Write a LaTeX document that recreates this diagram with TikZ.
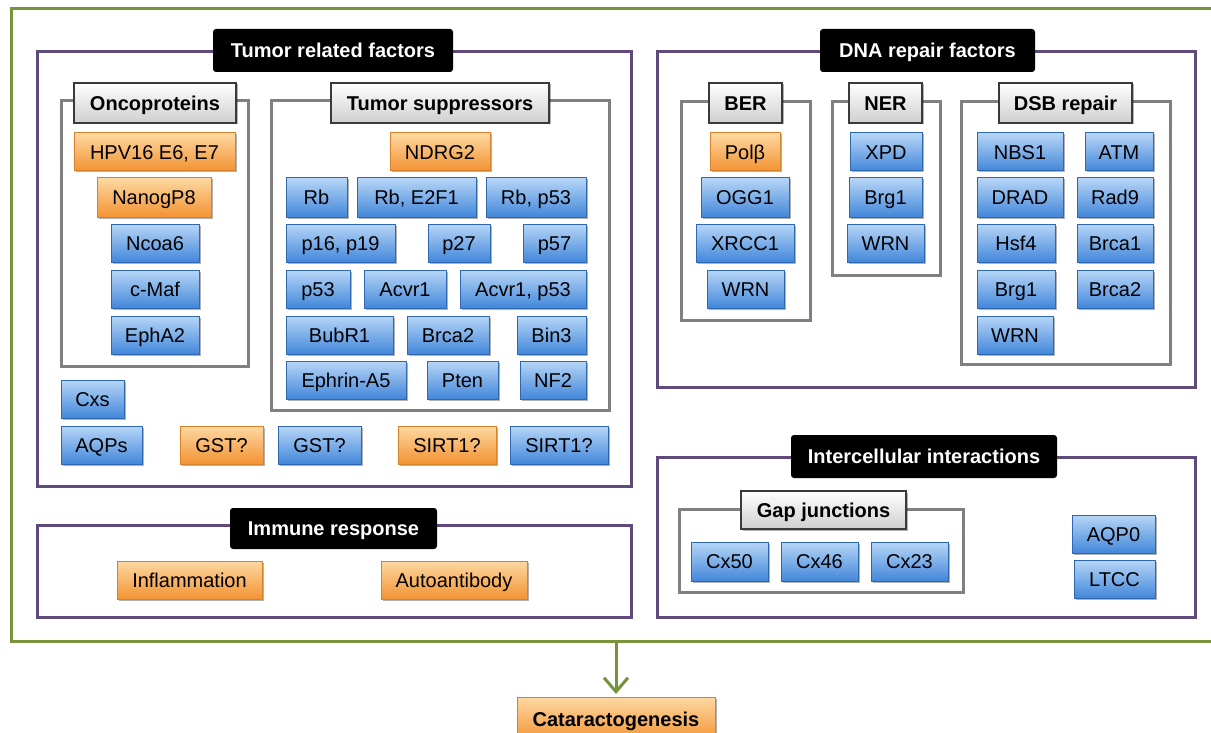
\documentclass[tikz,border=0pt]{standalone}
\usepackage{fontspec}
\setmainfont{Liberation Sans}
\usetikzlibrary{arrows.meta,shadows}
\definecolor{orTop}{HTML}{FDD8A2}
\definecolor{orBot}{HTML}{F39332}
\definecolor{orBorder}{HTML}{D9822B}
\definecolor{blTop}{HTML}{B7D6F7}
\definecolor{blBot}{HTML}{4287DA}
\definecolor{blBorder}{HTML}{2F68B0}
\definecolor{gyBot}{HTML}{CFCFCF}
\definecolor{gyBorder}{HTML}{3A3A3A}
\definecolor{purp}{HTML}{604A7B}
\definecolor{grn}{HTML}{77933C}
\definecolor{grayfr}{HTML}{808080}
\newcommand\Bx[7]{\node[#1, minimum width={#5-#3}, minimum height={#6-#4}] (#2) at ({(#3+#5)/2},{(#4+#6)/2}) {#7};}
\tikzset{
  base/.style={inner sep=0pt, outer sep=0pt, font=\fontsize{20}{23}\selectfont, text=black, text height=14.5pt, text depth=0pt},
  shad/.style={drop shadow={shadow xshift=1.5pt, shadow yshift=-1.5pt, opacity=0.3, fill=black}},
  obox/.style={base, shad, draw=orBorder, line width=1pt, top color=orTop, bottom color=orBot},
  bbox/.style={base, shad, draw=blBorder, line width=1pt, top color=blTop, bottom color=blBot},
  glabel/.style={base, shad, draw=gyBorder, line width=1.5pt, top color=white, bottom color=gyBot, font=\fontsize{20}{23}\selectfont\bfseries},
  klabel/.style={base, fill=black, text=white, rounded corners=3pt, font=\fontsize{20}{23}\selectfont\bfseries},
  pframe/.style={base, draw=purp, line width=3pt},
  gframe/.style={base, draw=grayfr, line width=3pt},
  outframe/.style={base, draw=grn, line width=3pt},
  arrowst/.style={draw=grn, line width=3pt, -{Straight Barb[length=14pt,width=24pt,line width=3pt]}, shorten >=3pt},
}
\begin{document}
\begin{tikzpicture}[x=1pt,y=-1pt]
\useasboundingbox (0,0) rectangle (1211,733);
\fill[white] (0,0) rectangle (1211,733);
% outer frame
\Bx{outframe}{outer}{11}{9}{1218}{641}{}
% purple frames
\Bx{pframe}{trf}{37}{52}{631}{486}{}
\Bx{pframe}{imm}{37}{525}{631}{617}{}
\Bx{pframe}{dna}{657}{52}{1195}{387}{}
\Bx{pframe}{ici}{657}{457}{1195}{617}{}
% gray frames
\Bx{gframe}{onc}{61}{101}{248}{366}{}
\Bx{gframe}{sup}{271}{101}{609}{410}{}
\Bx{gframe}{ber}{681}{102}{810}{320}{}
\Bx{gframe}{ner}{832}{102}{940}{275}{}
\Bx{gframe}{dsb}{961}{102}{1170}{364}{}
\Bx{gframe}{gap}{679}{509}{963}{592}{}
% black labels
\Bx{klabel}{trfL}{213}{29}{453}{72}{Tumor related factors}
\Bx{klabel}{dnaL}{820}{29}{1035}{72}{DNA repair factors}
\Bx{klabel}{immL}{230}{508}{437}{549}{Immune response}
\Bx{klabel}{iciL}{791}{435}{1057}{478}{Intercellular interactions}
% gray labels
\Bx{glabel}{oncL}{74}{83}{236}{123}{Oncoproteins}
\Bx{glabel}{supL}{331}{83}{549}{123}{Tumor suppressors}
\Bx{glabel}{berL}{709}{83}{782}{123}{BER}
\Bx{glabel}{nerL}{849}{83}{922}{123}{NER}
\Bx{glabel}{dsbL}{999}{83}{1132}{123}{DSB repair}
\Bx{glabel}{gapL}{741}{491}{906}{529}{Gap junctions}
% oncoproteins
\Bx{obox}{hpv}{74}{133}{235}{171}{HPV16 E6, E7}
\Bx{obox}{nanog}{97}{178}{211}{217}{NanogP8}
\Bx{bbox}{ncoa}{111}{224}{199}{262}{Ncoa6}
\Bx{bbox}{cmaf}{111}{270}{199}{308}{c-Maf}
\Bx{bbox}{epha}{111}{316}{199}{354}{EphA2}
% tumor suppressors
\Bx{obox}{ndrg}{390}{133}{490}{171}{NDRG2}
\Bx{bbox}{rb}{286}{178}{347}{217}{Rb}
\Bx{bbox}{rbe}{357}{178}{476}{217}{Rb, E2F1}
\Bx{bbox}{rbp}{486}{178}{586}{217}{Rb, p53}
\Bx{bbox}{p16}{286}{224}{395}{262}{p16, p19}
\Bx{bbox}{p27}{428}{224}{490}{262}{p27}
\Bx{bbox}{p57}{523}{224}{586}{262}{p57}
\Bx{bbox}{p53}{286}{270}{350}{308}{p53}
\Bx{bbox}{acv}{364}{270}{446}{308}{Acvr1}
\Bx{bbox}{acvp}{460}{270}{586}{308}{Acvr1, p53}
\Bx{bbox}{bub}{286}{316}{393}{354}{BubR1}
\Bx{bbox}{brcaT}{407}{316}{489}{354}{Brca2}
\Bx{bbox}{bin}{517}{316}{586}{354}{Bin3}
\Bx{bbox}{eph}{286}{361}{406}{399}{Ephrin-A5}
\Bx{bbox}{pten}{427}{361}{498}{399}{Pten}
\Bx{bbox}{nf}{520}{361}{586}{399}{NF2}
% others
\Bx{bbox}{cxs}{61}{380}{124}{418}{Cxs}
\Bx{bbox}{aqps}{61}{426}{142}{464}{AQPs}
\Bx{obox}{gsto}{180}{426}{263}{464}{GST?}
\Bx{bbox}{gstb}{278}{426}{361}{464}{GST?}
\Bx{obox}{sirto}{398}{426}{496}{464}{SIRT1?}
\Bx{bbox}{sirtb}{510}{426}{608}{464}{SIRT1?}
% immune
\Bx{obox}{infl}{117}{561}{262}{599}{Inflammation}
\Bx{obox}{auto}{381}{561}{527}{599}{Autoantibody}
% BER
\Bx{obox}{pol}{710}{133}{780}{171}{Pol\symbol{"03B2}}
\Bx{bbox}{ogg}{701}{178}{789}{217}{OGG1}
\Bx{bbox}{xrcc}{696}{224}{794}{262}{XRCC1}
\Bx{bbox}{wrnB}{707}{270}{784}{308}{WRN}
% NER
\Bx{bbox}{xpd}{850}{133}{922}{171}{XPD}
\Bx{bbox}{brgN}{849}{178}{922}{217}{Brg1}
\Bx{bbox}{wrnN}{847}{224}{924}{262}{WRN}
% DSB
\Bx{bbox}{nbs}{977}{133}{1063}{171}{NBS1}
\Bx{bbox}{atm}{1085}{133}{1153}{171}{ATM}
\Bx{bbox}{drad}{977}{178}{1063}{217}{DRAD}
\Bx{bbox}{rad}{1077}{178}{1153}{217}{Rad9}
\Bx{bbox}{hsf}{977}{224}{1055}{262}{Hsf4}
\Bx{bbox}{brca1}{1077}{224}{1153}{262}{Brca1}
\Bx{bbox}{brgD}{977}{270}{1055}{308}{Brg1}
\Bx{bbox}{brca2}{1077}{270}{1153}{308}{Brca2}
\Bx{bbox}{wrnD}{977}{316}{1053}{354}{WRN}
% intercellular
\Bx{bbox}{cx50}{691}{542}{768}{581}{Cx50}
\Bx{bbox}{cx46}{781}{542}{858}{581}{Cx46}
\Bx{bbox}{cx23}{871}{542}{948}{581}{Cx23}
\Bx{bbox}{aqp0}{1072}{515}{1155}{553}{AQP0}
\Bx{bbox}{ltcc}{1074}{560}{1155}{598}{LTCC}
% result
\Bx{obox}{cat}{517}{697}{715}{742}{\bfseries Cataractogenesis}
\draw[arrowst] (outer.south -| cat.north) -- (cat.north);
\end{tikzpicture}
\end{document}
